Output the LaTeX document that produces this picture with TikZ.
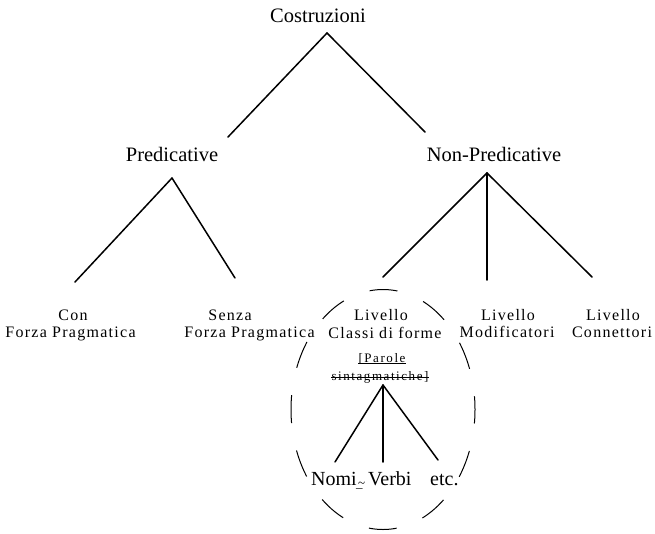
\documentclass[tikz,border=0pt]{standalone}
\usepackage{fontspec}
\setmainfont{Liberation Serif}
\newfontfamily\spacedfont[LetterSpace=8]{Liberation Serif}
\newfontfamily\smallspaced[LetterSpace=12]{Liberation Serif}
\usetikzlibrary{calc}
\begin{document}
\begin{tikzpicture}[x=1pt,y=-1pt,
  big/.style={inner sep=0pt, anchor=base, font=\fontsize{20.5}{24}\selectfont},
  lbl/.style={inner sep=0pt, anchor=base, font=\spacedfont\fontsize{16}{19}\selectfont},
  sml/.style={inner sep=0pt, anchor=base, font=\smallspaced\fontsize{13}{15}\selectfont},
  leaf/.style={inner sep=0pt, anchor=base west, font=\fontsize{20}{24}\selectfont},
  branch/.style={line width=1.5pt, line cap=round},
  strike/.style={line width=0.5pt},
  group/.style={line width=1pt, dash pattern=on 27.9pt off 27.9pt, dash phase=13.9pt}]
\useasboundingbox (0,0) rectangle (655,533);
% level 0 and 1
\node[big] (costr) at (318,22) {Costruzioni};
\node[big] (pred) at (172,161) {Predicative};
\node[big] (npred) at (494,161) {Non-Predicative};
% level 2
\node[lbl] (con) at (73,320) {Con};
\node[lbl] (conb) at (70.5,337) {Forza Pragmatica};
\node[lbl] (sen) at (230,320) {Senza};
\node[lbl] (senb) at (249.5,337) {Forza Pragmatica};
\node[lbl] (cla) at (381,320) {Livello};
\node[lbl] (clab) at (385,338) {Classi di forme};
\node[sml] (par) at (382,362) {[Parole};
\node[sml] (sint) at (380,380) {sintagmatiche]};
\node[lbl] (mod) at (508,320) {Livello};
\node[lbl] (modb) at (507,337) {Modificatori};
\node[lbl] (cnn) at (613,320) {Livello};
\node[lbl] (cnnb) at (612,337) {Connettori};
% level 3
\node[leaf] (nomi) at (311,485) {Nomi\raisebox{-0.12em}{\fontsize{13}{13}\selectfont\kern-0.05em\_\kern-0.35em\textasciitilde}};
\node[leaf] (verbi) at (368,485) {Verbi};
\node[leaf] (etc) at (430,485) {etc.};
% strike-throughs on the small text
\draw[strike] ($(par.base west)+(0,1)$) -- ($(par.base east)+(0,1)$);
\draw[strike] ($(sint.base west)+(0,-3)$) -- ($(sint.base east)+(0,-3)$);
% connectors
\draw[branch] ($(costr.base)+(9,11)$) -- ($(pred.base)+(56,-24)$);
\draw[branch] ($(costr.base)+(9,11)$) -- ($(npred.base)+(-69,-29)$);
\draw[branch] ($(pred.base)+(0,17)$) -- ($(con.base)+(2,-38)$);
\draw[branch] ($(pred.base)+(0,17)$) -- ($(sen.base)+(5,-42)$);
\draw[branch] ($(npred.base)+(-7,12)$) -- ($(cla.base)+(2,-43)$);
\draw[branch] ($(npred.base)+(-7,12)$) -- ($(mod.base)+(-21,-40)$);
\draw[branch] ($(npred.base)+(-7,12)$) -- ($(cnn.base)+(-21,-43)$);
\draw[branch] ($(sint.base)+(3,5)$) -- ($(nomi.base west)+(24,-23)$);
\draw[branch] ($(sint.base)+(3,5)$) -- ($(verbi.base west)+(15,-23)$);
\draw[branch] ($(sint.base)+(3,5)$) -- ($(etc.base west)+(8,-25)$);
% dashed group
\draw[group] (383,409.5) ellipse [x radius=92, y radius=120];
\end{tikzpicture}
\end{document}
